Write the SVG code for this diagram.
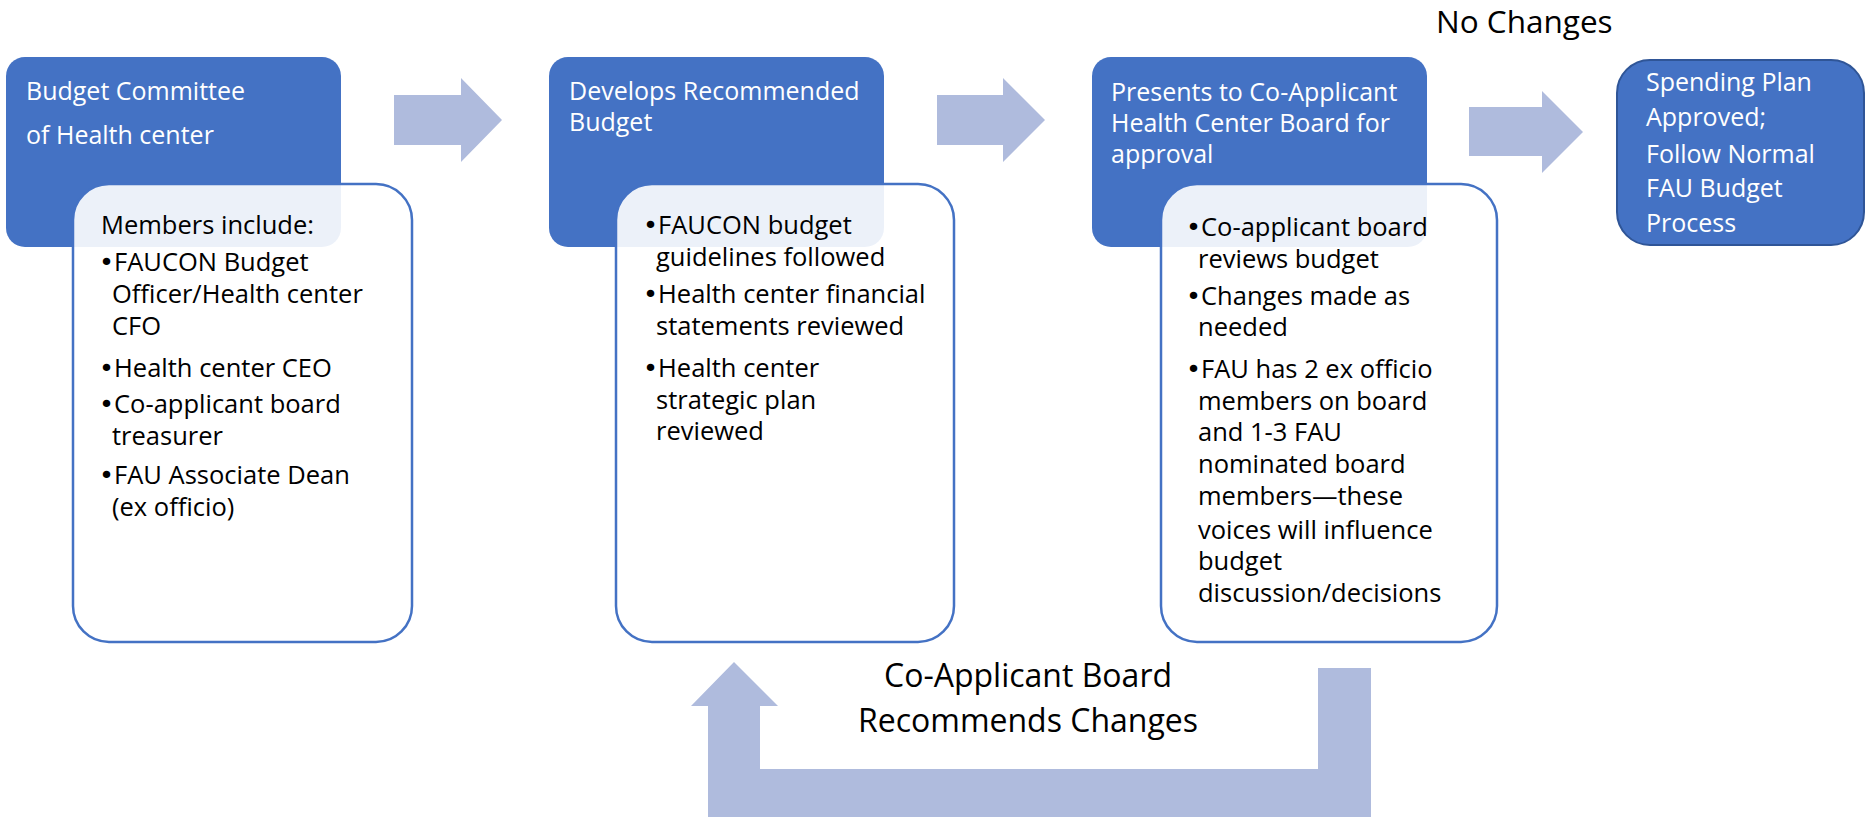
<svg xmlns="http://www.w3.org/2000/svg" width="1866" height="817" viewBox="0 0 1866 817">
<style>
.blue{fill:#4472C4;}
.card{fill:#ffffff;fill-opacity:0.9;stroke:#4472C4;stroke-width:2.5;}
.arrow{fill:#AFBBDD;}
.title{font-family:"Open Sans","Noto Sans",sans-serif;font-size:25px;fill:#ffffff;}
.body{font-family:"Open Sans","Noto Sans",sans-serif;font-size:25.5px;fill:#000000;}
.bul{font-family:"DejaVu Sans",sans-serif;}
.label{font-family:"Open Sans","Noto Sans",sans-serif;font-size:32px;fill:#000000;}
.nochg{font-family:"Open Sans","Noto Sans",sans-serif;font-size:31.5px;fill:#000000;}
</style>
<rect width="1866" height="817" fill="#ffffff"/>

<g id="connectors">
  <polygon class="arrow" points="394,95 461,95 461,78 502,120 461,162 461,145 394,145"/>
  <polygon class="arrow" points="937,95 1003,95 1003,78 1045,120 1003,162 1003,145 937,145"/>
  <polygon class="arrow" points="1469,107 1542,107 1542,91 1583,132 1542,173 1542,156 1469,156"/>
  <polygon class="arrow" points="1371,668 1371,817 708,817 708,706 691,706 734,662 778,706 760,706 760,769 1318,769 1318,668"/>
</g>

<g id="step1">
  <rect class="blue" x="6" y="57" width="335" height="190" rx="19"/>
  <text class="title" x="26" y="100">Budget Committee</text>
  <text class="title" x="26" y="144">of Health center</text>
</g>
<g id="step1-details">
  <rect class="card" x="73" y="184" width="339" height="458" rx="36"/>
  <text class="body" x="101" y="234">Members include:</text>
  <text class="body" x="99" y="271"><tspan class="bul">•</tspan>FAUCON Budget</text>
  <text class="body" x="112" y="303">Officer/Health center</text>
  <text class="body" x="112" y="335">CFO</text>
  <text class="body" x="99" y="377"><tspan class="bul">•</tspan>Health center CEO</text>
  <text class="body" x="99" y="413"><tspan class="bul">•</tspan>Co-applicant board</text>
  <text class="body" x="112" y="445">treasurer</text>
  <text class="body" x="99" y="484"><tspan class="bul">•</tspan>FAU Associate Dean</text>
  <text class="body" x="112" y="516">(ex officio)</text>
</g>

<g id="step2">
  <rect class="blue" x="549" y="57" width="335" height="190" rx="19"/>
  <text class="title" x="569" y="100">Develops Recommended</text>
  <text class="title" x="569" y="131">Budget</text>
</g>
<g id="step2-details">
  <rect class="card" x="616" y="184" width="338" height="458" rx="36"/>
  <text class="body" x="643" y="234"><tspan class="bul">•</tspan>FAUCON budget</text>
  <text class="body" x="656" y="266">guidelines followed</text>
  <text class="body" x="643" y="303"><tspan class="bul">•</tspan>Health center financial</text>
  <text class="body" x="656" y="335">statements reviewed</text>
  <text class="body" x="643" y="377"><tspan class="bul">•</tspan>Health center</text>
  <text class="body" x="656" y="409">strategic plan</text>
  <text class="body" x="656" y="440">reviewed</text>
</g>

<g id="step3">
  <rect class="blue" x="1092" y="57" width="335" height="190" rx="19"/>
  <text class="title" x="1111" y="101">Presents to Co-Applicant</text>
  <text class="title" x="1111" y="132">Health Center Board for</text>
  <text class="title" x="1111" y="163">approval</text>
</g>
<g id="step3-details">
  <rect class="card" x="1161" y="184" width="336" height="458" rx="36"/>
  <text class="body" x="1186" y="236"><tspan class="bul">•</tspan>Co-applicant board</text>
  <text class="body" x="1198" y="268">reviews budget</text>
  <text class="body" x="1186" y="305"><tspan class="bul">•</tspan>Changes made as</text>
  <text class="body" x="1198" y="336">needed</text>
  <text class="body" x="1186" y="378"><tspan class="bul">•</tspan>FAU has 2 ex officio</text>
  <text class="body" x="1198" y="410">members on board</text>
  <text class="body" x="1198" y="441">and 1-3 FAU</text>
  <text class="body" x="1198" y="473">nominated board</text>
  <text class="body" x="1198" y="505">members—these</text>
  <text class="body" x="1198" y="539">voices will influence</text>
  <text class="body" x="1198" y="570">budget</text>
  <text class="body" x="1198" y="602">discussion/decisions</text>
</g>

<g id="step4">
  <rect x="1617" y="60" width="247" height="185" rx="33" fill="#4472C4" stroke="#2F5597" stroke-width="2"/>
  <text class="title" x="1646" y="91">Spending Plan</text>
  <text class="title" x="1646" y="126">Approved;</text>
  <text class="title" x="1646" y="163">Follow Normal</text>
  <text class="title" x="1646" y="197">FAU Budget</text>
  <text class="title" x="1646" y="232">Process</text>
</g>

<g id="label-no-changes">
  <text class="nochg" x="1436" y="33">No Changes</text>
</g>
<g id="label-recommends">
  <text class="label" x="1028" y="687" text-anchor="middle">Co-Applicant Board</text>
  <text class="label" x="1028" y="732" text-anchor="middle">Recommends Changes</text>
</g>
</svg>
